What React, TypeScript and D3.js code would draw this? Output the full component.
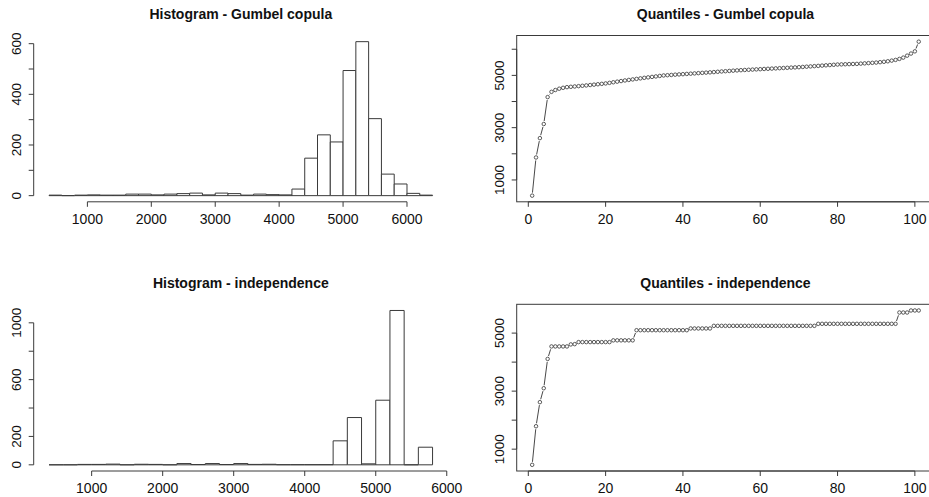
import React from 'react';
import * as d3 from 'd3';

// histogram bins (lower edges, width 200) and counts
const gumbelBinStarts = [400, 600, 800, 1000, 1200, 1400, 1600, 1800, 2000, 2200, 2400, 2600, 2800, 3000, 3200,
  3400, 3600, 3800, 4000, 4200, 4400, 4600, 4800, 5000, 5200, 5400, 5600, 5800, 6000, 6200];
const gumbelCounts = [2, 0, 2, 3, 2, 2, 6, 6, 3, 6, 8, 10, 3, 10, 8,
  2, 6, 4, 3, 26, 148, 240, 212, 494, 608, 304, 85, 46, 9, 2];

const indepBinStarts = [400, 600, 800, 1000, 1200, 1400, 1600, 1800, 2000, 2200, 2400, 2600, 2800, 3000, 3200,
  3400, 3600, 3800, 4000, 4200, 4400, 4600, 4800, 5000, 5200, 5400, 5600];
const indepCounts = [0, 0, 3, 3, 5, 0, 4, 3, 0, 9, 2, 9, 2, 9, 3,
  4, 1, 1, 1, 1, 169, 333, 7, 455, 1087, 0, 124];

const BIN_WIDTH = 200;

// quantiles at 0%, 1%, ..., 100%
const gumbelQuantiles = [
  400, 1860, 2600, 3140, 4170, 4370, 4440, 4490, 4525, 4550,
  4563, 4576, 4589, 4602, 4616, 4631, 4646, 4661, 4676, 4692,
  4714, 4737, 4760, 4783, 4806, 4826, 4846, 4866, 4886, 4906,
  4924, 4942, 4960, 4979, 4997, 5007, 5017, 5027, 5037, 5046,
  5056, 5066, 5076, 5086, 5096, 5106, 5116, 5126, 5138, 5150,
  5160, 5170, 5180, 5190, 5199, 5207, 5214, 5222, 5230, 5237,
  5245, 5252, 5260, 5268, 5275, 5283, 5290, 5298, 5305, 5313,
  5323, 5333, 5343, 5353, 5363, 5374, 5385, 5395, 5405, 5416,
  5421, 5426, 5431, 5436, 5440, 5450, 5460, 5470, 5480, 5490,
  5505, 5520, 5540, 5565, 5592, 5630, 5680, 5755, 5835, 5920, 6290,
];
const indepQuantiles = [
  460, 1790, 2620, 3100, 4110, 4540, 4540, 4540, 4540, 4540,
  4610, 4620, 4690, 4690, 4690, 4690, 4690, 4690, 4690, 4690,
  4690, 4750, 4750, 4750, 4750, 4750, 4750, 5100, 5100, 5100,
  5100, 5100, 5100, 5100, 5100, 5100, 5100, 5100, 5100, 5100,
  5100, 5160, 5160, 5160, 5160, 5160, 5160, 5250, 5250, 5250,
  5250, 5250, 5250, 5250, 5250, 5250, 5250, 5250, 5250, 5250,
  5250, 5250, 5250, 5250, 5250, 5250, 5250, 5250, 5250, 5250,
  5250, 5250, 5250, 5250, 5320, 5320, 5320, 5320, 5320, 5320,
  5320, 5320, 5320, 5320, 5320, 5320, 5320, 5320, 5320, 5320,
  5320, 5320, 5320, 5320, 5320, 5710, 5710, 5710, 5780, 5780, 5780,
];

const histXTicks = [1000, 2000, 3000, 4000, 5000, 6000];
const gumbelYTicks = [0, 100, 200, 300, 400, 500, 600];
const gumbelYLabels = [0, 200, 400, 600];
const indepYTicks = [0, 200, 400, 600, 800, 1000];
const indepYLabels = [0, 200, 600, 1000];
const quantXTicks = [0, 20, 40, 60, 80, 100];
const quantYTicks = [1000, 2000, 3000, 4000, 5000, 6000];
const quantYLabels = [1000, 3000, 5000];

const FONT = '"Liberation Sans", Arial, sans-serif';
const INK = '#3a3a3a';
const TICK = 5;

// plot regions
const cols = [[33.7, 447.9], [516.7, 934.2]];
const rows = [[35.5, 201.8], [304.3, 471]];

// R-style axis range: data range widened by 4% on both sides
const pad = ([a, b]: number[]) => [a - (b - a) * 0.04, b + (b - a) * 0.04];

const Title = ({x, y, text}: any) => (
  <text x={x} y={y - 16.2} textAnchor="middle" fontFamily={FONT} fontWeight="bold" fontSize={14} fill="#111">{text}</text>
);

const XAxis = ({scale, y, ticks}: any) => (
  <g>
    <line x1={scale(ticks[0])} x2={scale(ticks[ticks.length - 1])} y1={y} y2={y} stroke={INK} />
    {ticks.map((t: number) => (
      <g key={t}>
        <line x1={scale(t)} x2={scale(t)} y1={y} y2={y + TICK} stroke={INK} />
        <text x={scale(t)} y={y + 22.3} textAnchor="middle" fontFamily={FONT} fontSize={14} fill="#111">{t}</text>
      </g>
    ))}
  </g>
);

const YAxis = ({scale, x, ticks, labels}: any) => (
  <g>
    <line x1={x} x2={x} y1={scale(ticks[0])} y2={scale(ticks[ticks.length - 1])} stroke={INK} />
    {ticks.map((t: number) => (
      <line key={t} x1={x - TICK} x2={x} y1={scale(t)} y2={scale(t)} stroke={INK} />
    ))}
    {labels.map((t: number) => (
      <text key={t} transform={`translate(${x - 12.5},${scale(t)}) rotate(-90)`} textAnchor="middle"
        fontFamily={FONT} fontSize={13.5} fill="#111">{t}</text>
    ))}
  </g>
);

const Histogram = ({col, row, starts, counts, yTicks, yLabels, title}: any) => {
  const [left, right] = cols[col];
  const [top, bottom] = rows[row];
  const x = d3.scaleLinear()
    .domain(pad([starts[0], starts[starts.length - 1] + BIN_WIDTH]))
    .range([left, right]);
  const y = d3.scaleLinear()
    .domain(pad([0, d3.max(counts) as number]))
    .range([bottom, top]);

  // bars as closed paths so that empty bins still show their outline
  const bar = (s: number, c: number) => {
    const p = d3.path();
    p.rect(x(s), y(c), x(s + BIN_WIDTH) - x(s), y(0) - y(c));
    return p.toString();
  };

  return (
    <g>
      <Title x={(left + right) / 2} y={top} text={title} />
      {starts.map((s: number, i: number) => (
        <path key={s} d={bar(s, counts[i])} fill="#fff" stroke={INK} strokeWidth={1} />
      ))}
      <XAxis scale={x} y={bottom} ticks={histXTicks} />
      <YAxis scale={y} x={left} ticks={yTicks} labels={yLabels} />
    </g>
  );
};

const Quantiles = ({col, row, values, title}: any) => {
  const [left, right] = cols[col];
  const [top, bottom] = rows[row];
  const idx = values.map((_: number, i: number) => i + 1);
  const x = d3.scaleLinear().domain(pad([1, values.length])).range([left, right]);
  const y = d3.scaleLinear().domain(pad(d3.extent(values) as number[])).range([bottom, top]);
  const gap = 3;

  // type = "b": segments between points with a gap around each symbol
  const segs = [];
  for (let i = 0; i < values.length - 1; i++) {
    const x1 = x(idx[i]), y1 = y(values[i]);
    const x2 = x(idx[i + 1]), y2 = y(values[i + 1]);
    const len = Math.hypot(x2 - x1, y2 - y1);
    if (len > gap * 2) {
      const ux = (x2 - x1) / len, uy = (y2 - y1) / len;
      segs.push(<line key={i} x1={x1 + ux * gap} y1={y1 + uy * gap} x2={x2 - ux * gap} y2={y2 - uy * gap}
        stroke="#333" strokeWidth={0.9} />);
    }
  }

  return (
    <g>
      <Title x={(left + right) / 2} y={top} text={title} />
      <rect x={left} y={top} width={right - left} height={bottom - top} fill="none" stroke={INK} />
      {segs}
      {values.map((v: number, i: number) => (
        <circle key={i} cx={x(idx[i])} cy={y(v)} r={1.75} fill="none" stroke="#333" strokeWidth={0.8} />
      ))}
      <XAxis scale={x} y={bottom} ticks={quantXTicks} />
      <YAxis scale={y} x={left} ticks={quantYTicks.filter(t => t <= y.domain()[1])} labels={quantYLabels} />
    </g>
  );
};

export default function App() {
  return (
    <svg width={929} height={497} style={{position: 'absolute', left: 0, top: 0, background: '#fff'}}>
      <rect width={929} height={497} fill="#fff" />
      <Histogram col={0} row={0} starts={gumbelBinStarts} counts={gumbelCounts}
        yTicks={gumbelYTicks} yLabels={gumbelYLabels} title="Histogram - Gumbel copula" />
      <Quantiles col={1} row={0} values={gumbelQuantiles} title="Quantiles - Gumbel copula" />
      <Histogram col={0} row={1} starts={indepBinStarts} counts={indepCounts}
        yTicks={indepYTicks} yLabels={indepYLabels} title="Histogram - independence" />
      <Quantiles col={1} row={1} values={indepQuantiles} title="Quantiles - independence" />
    </svg>
  );
}
